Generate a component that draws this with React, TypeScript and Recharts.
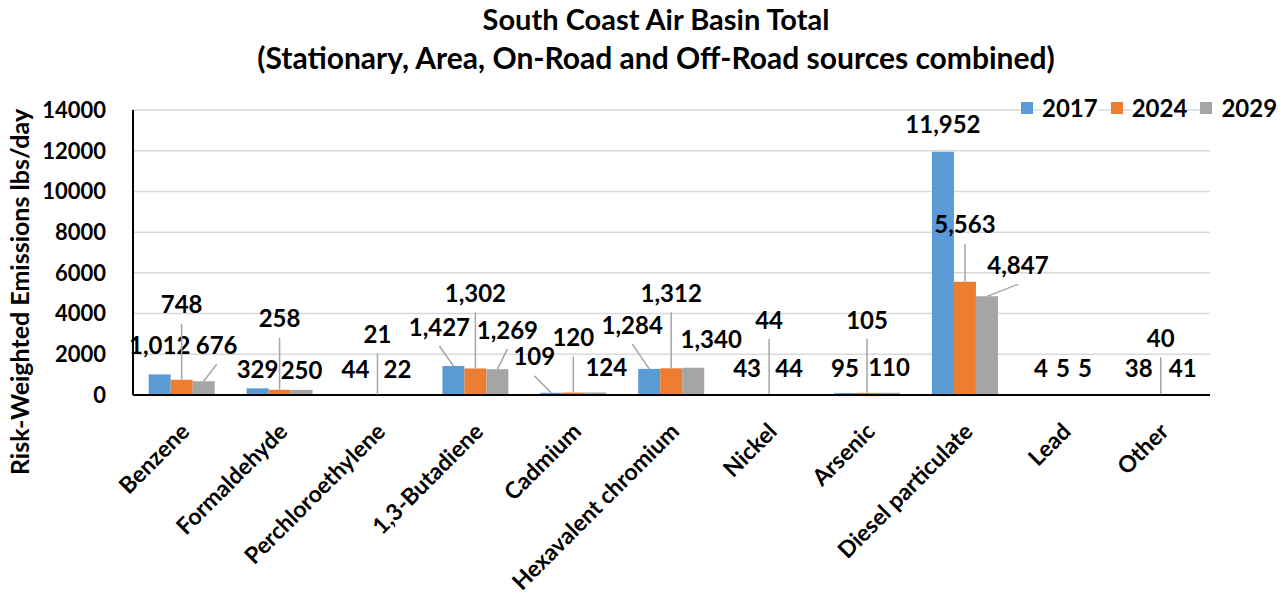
import React from 'react'
import { BarChart, Bar, XAxis, YAxis, CartesianGrid, LabelList } from 'recharts'

// Risk-weighted toxic emissions by pollutant, South Coast Air Basin
const categories = [
  'Benzene',
  'Formaldehyde',
  'Perchloroethylene',
  '1,3-Butadiene',
  'Cadmium',
  'Hexavalent chromium',
  'Nickel',
  'Arsenic',
  'Diesel particulate',
  'Lead',
  'Other',
]

const years = ['2017', '2024', '2029']

const values2017 = [1012, 329, 44, 1427, 109, 1284, 43, 95, 11952, 4, 38]
const values2024 = [748, 258, 21, 1302, 120, 1312, 44, 105, 5563, 5, 40]
const values2029 = [676, 250, 22, 1269, 124, 1340, 44, 110, 4847, 5, 41]

const yTicks = [0, 2000, 4000, 6000, 8000, 10000, 12000, 14000]

const COLORS = ['#5B9BD5', '#ED7D31', '#A5A5A5']
const FONT = 'Lato, "Open Sans", sans-serif'

// label placement relative to the top centre of each bar: [dx, dy, leader]
const labelPlacement: [number, number, boolean][][] = [
  [
    [0, -29, false], [0, -19, false], [0, -25, false], [-14, -39, true], [-17, -36, true],
    [-17, -44, true], [0, -26, false], [0, -25, false], [0, -27, false], [0, -27, false], [0, -26, false],
  ],
  [
    [0, -75, true], [0, -71, true], [0, -60, true], [0, -75, true], [0, -55, true],
    [0, -75, true], [0, -74, true], [0, -73, true], [0, -57, true], [0, -27, false], [0, -56, true],
  ],
  [
    [13, -36, true], [0, -20, false], [-2, -25, false], [10, -39, true], [11, -25, false],
    [18, -28, false], [-2, -26, false], [0, -25, false], [31, -31, true], [0, -27, false], [0, -26, false],
  ],
]

const data = categories.map((name, i) => ({
  name,
  y2017: values2017[i],
  y2024: values2024[i],
  y2029: values2029[i],
}))

const makeLabel = (series: number) => (props: any) => {
  const { x, y, width, value, index } = props
  const [dx, dy, leader] = labelPlacement[series][index]
  const cx = Number(x) + Number(width) / 2
  const top = Number(y)
  const lx = cx + dx
  const ly = top + dy
  return (
    <g>
      {leader && (
        <line x1={lx} y1={ly + 19} x2={cx} y2={top} stroke="#A6A6A6" strokeWidth={1.5} />
      )}
      <text
        x={lx}
        y={ly}
        dy="0.36em"
        textAnchor="middle"
        fontFamily={FONT}
        fontWeight={700}
        fontSize={24}
        fill="#000"
      >
        {Number(value).toLocaleString('en-US')}
      </text>
    </g>
  )
}

const CategoryTick = (props: any) => {
  const { x, y, payload } = props
  return (
    <g transform={`translate(${x + 9},${y})`}>
      <text
        x={0}
        y={0}
        textAnchor="end"
        transform="rotate(-45)"
        fontFamily={FONT}
        fontWeight={700}
        fontSize={23}
        fill="#000"
      >
        {payload.value}
      </text>
    </g>
  )
}

export default function App() {
  const seriesKeys = ['y2017', 'y2024', 'y2029']
  return (
    <div style={{ position: 'absolute', left: 0, top: 0, width: 1288, height: 604, background: '#fff' }}>
      <div
        style={{
          position: 'absolute',
          left: 0,
          top: 0,
          width: 1312,
          textAlign: 'center',
          fontFamily: FONT,
          fontWeight: 700,
          fontSize: 29,
          lineHeight: '38px',
          color: '#000',
        }}
      >
        <div>South Coast Air Basin Total</div>
        <div style={{ fontSize: 30 }}>(Stationary, Area, On-Road and Off-Road sources combined)</div>
      </div>

      <div
        style={{
          position: 'absolute',
          left: 19,
          top: 292,
          transform: 'translate(-50%, -50%) rotate(-90deg)',
          whiteSpace: 'nowrap',
          fontFamily: FONT,
          fontWeight: 700,
          fontSize: 25,
          color: '#000',
        }}
      >
        Risk-Weighted Emissions lbs/day
      </div>

      <BarChart
        width={1288}
        height={604}
        data={data}
        margin={{ top: 110, right: 78, left: 33, bottom: 19 }}
        barCategoryGap="16%"
        barGap={0}
      >
        <CartesianGrid vertical={false} stroke="#D9D9D9" strokeWidth={1.5} />
        <YAxis
          width={100}
          domain={[0, 14000]}
          ticks={yTicks}
          interval={0}
          axisLine={{ stroke: '#000', strokeWidth: 2 }}
          tickLine={false}
          tickSize={0}
          tickMargin={27}
          tick={{ fontFamily: FONT, fontWeight: 700, fontSize: 22, fill: '#000' }}
        />
        <XAxis
          dataKey="name"
          height={190}
          interval={0}
          axisLine={{ stroke: '#000', strokeWidth: 2 }}
          tickLine={false}
          tickSize={0}
          tickMargin={38}
          tick={<CategoryTick />}
        />
        {seriesKeys.map((key, s) => (
          <Bar key={key} dataKey={key} name={years[s]} fill={COLORS[s]} isAnimationActive={false}>
            <LabelList dataKey={key} content={makeLabel(s)} />
          </Bar>
        ))}
      </BarChart>

      {/* legend sits over the top gridline; text boxes mask the line */}
      <div
        style={{
          position: 'absolute',
          left: 1021,
          top: 96,
          display: 'flex',
          alignItems: 'center',
          fontFamily: FONT,
          fontWeight: 700,
          fontSize: 24,
          color: '#000',
        }}
      >
        {years.map((yr, i) => (
          <div key={yr} style={{ display: 'flex', alignItems: 'center', marginRight: 13 }}>
            <span style={{ width: 12, height: 12, background: COLORS[i], marginRight: 9, display: 'inline-block' }} />
            <span style={{ background: '#fff', lineHeight: '24px' }}>{yr}</span>
          </div>
        ))}
      </div>
    </div>
  )
}
